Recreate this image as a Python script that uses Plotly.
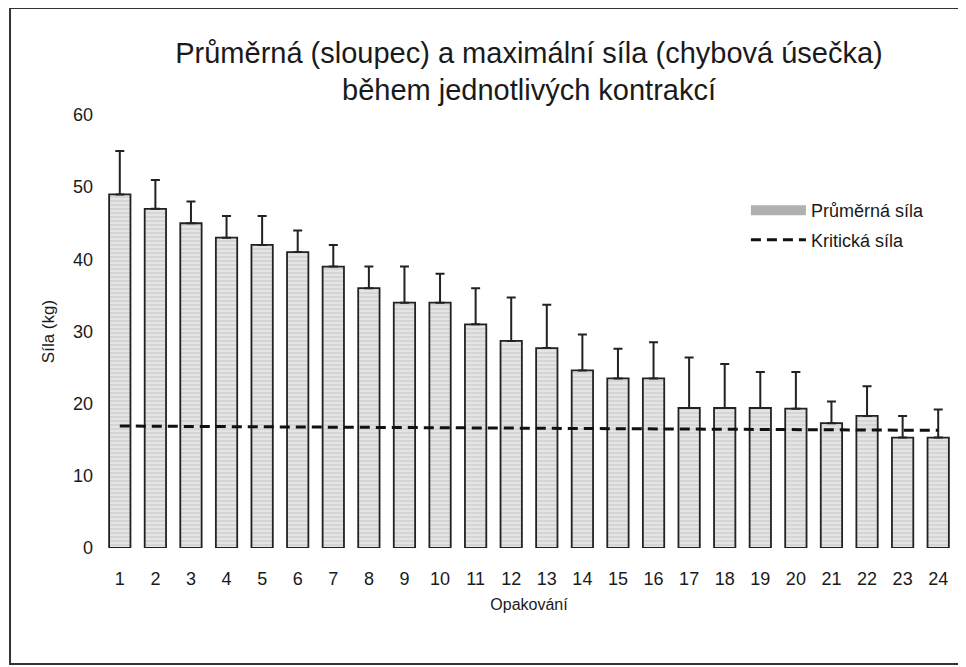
import plotly.graph_objects as go

repetitions = list(range(1, 25))
tick_labels = [str(i) for i in repetitions]
mean_force = [49, 47, 45, 43, 42, 41, 39, 36, 34, 34, 31, 28.7, 27.7, 24.6,
              23.5, 23.5, 19.4, 19.4, 19.4, 19.3, 17.3, 18.3, 15.3, 15.3]
max_force = [55, 51, 48, 46, 46, 44, 42, 39, 39, 38, 36, 34.7, 33.7, 29.6,
             27.6, 28.5, 26.4, 25.5, 24.4, 24.4, 20.3, 22.4, 18.3, 19.2]
critical_x = [1, 24]
critical_force = [16.9, 16.3]

err_up = [m - a for m, a in zip(max_force, mean_force)]
err_down = [0] * len(mean_force)

FONT = "Liberation Sans, Arial, sans-serif"
INK = "#1a1a1a"

fig = go.Figure()
fig.add_trace(go.Bar(
    x=repetitions, y=mean_force, name="Průměrná síla", showlegend=False,
    marker=dict(color="#e4e4e4", line=dict(color="#222222", width=1.8),
                pattern=dict(shape="-", fgcolor="#a8a8a8", size=4, solidity=0.25)),
    error_y=dict(type="data", symmetric=False, array=err_up, arrayminus=err_down,
                 color="#222222", thickness=2, width=4.5),
    width=0.6,
))
# legend proxy for the bars (wide grey swatch as in the original)
fig.add_trace(go.Scatter(
    x=[None], y=[None], mode="lines", name="Průměrná síla", legendgroup="a",
    line=dict(color="#b0b0b0", width=10),
))
fig.add_trace(go.Scatter(
    x=critical_x, y=critical_force, mode="lines", name="Kritická síla", legendgroup="b",
    line=dict(color="#111111", width=3, dash="10px,6px"),
))

fig.update_layout(
    width=958, height=659,
    margin=dict(l=94, r=10, t=107, b=119),
    paper_bgcolor="white", plot_bgcolor="white",
    font=dict(family=FONT, color=INK),
    title=dict(text="Průměrná (sloupec) a maximální síla (chybová úsečka)<br>během jednotlivých kontrakcí",
               x=0.5, xref="paper", xanchor="center", y=0.917, yref="container", yanchor="top",
               font=dict(size=29, family=FONT, color=INK)),
    xaxis=dict(range=[0.5, 24.5], tickvals=repetitions, ticktext=tick_labels,
               showgrid=False, zeroline=False, showline=False, ticks="",
               ticklabelstandoff=18,
               tickfont=dict(size=18, family=FONT, color=INK),
               title=dict(text="Opakování", font=dict(size=16, family=FONT, color=INK), standoff=10)),
    yaxis=dict(range=[0, 60], dtick=10, showgrid=False, zeroline=False, showline=False,
               ticks="", ticklabelstandoff=8,
               tickfont=dict(size=18, family=FONT, color=INK),
               title=dict(text="Síla (kg)", font=dict(size=17, family=FONT, color=INK), standoff=14)),
    legend=dict(x=0.754, y=0.822, xanchor="left", yanchor="top",
                bgcolor="rgba(0,0,0,0)", font=dict(size=18, family=FONT, color=INK),
                itemwidth=55, tracegroupgap=3),
    showlegend=True,
    bargap=0.4,
    shapes=[dict(type="rect", xref="paper", yref="paper",
                 x0=-0.1077, x1=1.06, y0=-0.268, y1=1.247,
                 line=dict(color="#333333", width=2), fillcolor="rgba(0,0,0,0)", layer="below")],
)

fig.write_html("out.html")
